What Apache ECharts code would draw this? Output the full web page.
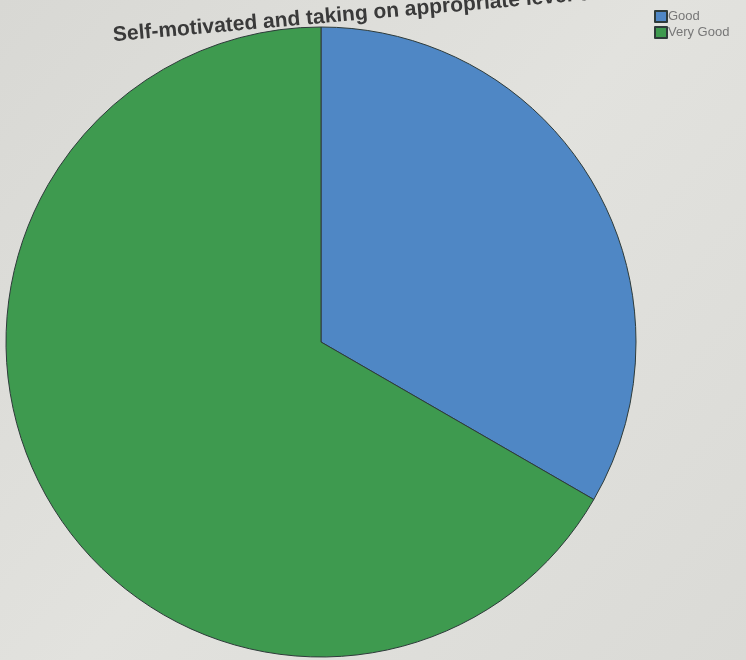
<!DOCTYPE html>
<html>
<head>
<meta charset="utf-8">
<script src="https://cdn.jsdelivr.net/npm/echarts@6/dist/echarts.min.js"></script>
<style>
html,body{margin:0;padding:0;background:#dcdcd8;}
#c{width:746px;height:660px;}
</style>
</head>
<body>
<div id="c"></div>
<script>
const titleText = "Self-motivated and taking on appropriate level of responsibility";
const categories = ["Good", "Very Good"];
const values = [1, 2];
const colors = ["#4f87c5", "#3e9a4f"];

const chart = echarts.init(document.getElementById('c'), null, {renderer: 'canvas'});
chart.setOption({
  backgroundColor: {
    type: 'linear', x: 0, y: 0, x2: 1, y2: 1,
    colorStops: [{offset: 0, color: '#d8d8d4'}, {offset: 0.5, color: '#e2e2de'}, {offset: 1, color: '#dadad6'}]
  },
  animation: false,
  color: colors,
  legend: {
    orient: 'vertical',
    left: 649,
    top: 5,
    itemWidth: 12,
    itemHeight: 11,
    itemGap: 3,
    icon: 'rect',
    textStyle: {fontFamily: 'Liberation Sans', fontSize: 13, color: '#777', padding: [0, 0, 0, -4]},
    data: categories
  },
  graphic: [{
    type: 'text',
    x: 114,
    y: 46,
    rotation: 0.087,
    z: -1,
    style: {
      text: titleText,
      font: 'bold 21px "Liberation Sans", Arial, sans-serif',
      fill: '#3a3a3a',
      textVerticalAlign: 'bottom'
    }
  }],
  series: [{
    type: 'pie',
    center: [321, 342],
    radius: 315,
    startAngle: 90,
    clockwise: true,
    label: {show: false},
    labelLine: {show: false},
    emphasis: {disabled: true},
    itemStyle: {borderColor: '#2e3b3a', borderWidth: 1},
    data: categories.map((c, i) => ({name: c, value: values[i]}))
  }]
});
</script>
</body>
</html>
